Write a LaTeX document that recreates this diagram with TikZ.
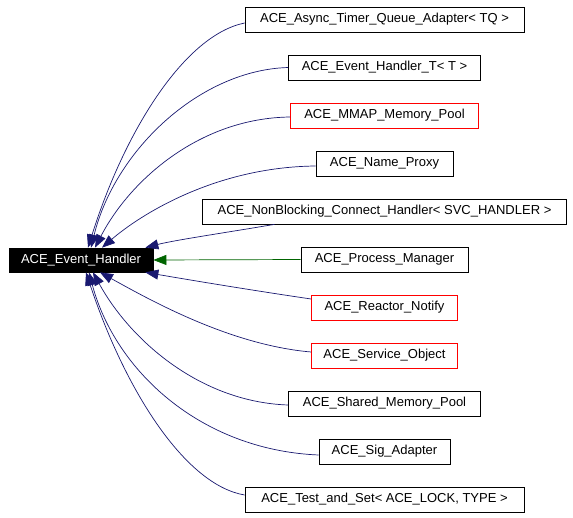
\documentclass[tikz,border=0pt]{standalone}
\usepackage{fontspec}
\setmainfont{Liberation Sans}
\usetikzlibrary{arrows.meta,positioning}
\definecolor{inhblue}{RGB}{25,25,112}
\definecolor{inhgreen}{RGB}{0,100,0}
\begin{document}
\begin{tikzpicture}[x=1pt,y=-1pt,node distance=48pt]

  % Definitions
  \tikzstyle{cls} = [rectangle, minimum height=25pt, inner sep=0pt, text centered, draw=black, line width=0.7pt, font=\fontsize{13}{15}\selectfont]
  \tikzstyle{cls_red} = [cls, draw=red]
  \tikzstyle{root_cls} = [cls, minimum height=24pt, fill=black, text=white]
  \tikzstyle{arrow} = [line width=0.7pt, draw=inhblue, -{Triangle[length=13pt,width=10pt]}]
  \tikzstyle{arrow_prot} = [arrow, draw=inhgreen]

  \useasboundingbox (0,0) rectangle (573,517);

  \node (eh) [root_cls, minimum width=144pt] at (81,260) {ACE\_Event\_Handler};

  \node (async) [cls, minimum width=279pt] at (384.5,19.5) {ACE\_Async\_Timer\_Queue\_Adapter< TQ >};
  \node (evt) [cls, minimum width=192pt, below of=async] {ACE\_Event\_Handler\_T< T >};
  \node (mmap) [cls_red, minimum width=188pt, below of=evt] {ACE\_MMAP\_Memory\_Pool};
  \node (proxy) [cls, minimum width=137pt, below of=mmap] {ACE\_Name\_Proxy};
  \node (nbch) [cls, minimum width=364pt, below of=proxy] {ACE\_NonBlocking\_Connect\_Handler< SVC\_HANDLER >};
  \node (proc) [cls, minimum width=167pt, below of=nbch] {ACE\_Process\_Manager};
  \node (notify) [cls_red, minimum width=146pt, below of=proc] {ACE\_Reactor\_Notify};
  \node (svc) [cls_red, minimum width=146pt, below of=notify] {ACE\_Service\_Object};
  \node (shmem) [cls, minimum width=192pt, below of=svc] {ACE\_Shared\_Memory\_Pool};
  \node (sig) [cls, minimum width=131pt, below of=shmem] {ACE\_Sig\_Adapter};
  \node (tas) [cls, minimum width=279pt, below of=sig] {ACE\_Test\_and\_Set< ACE\_LOCK, TYPE >};

  \draw [arrow] ([yshift=-3.5pt]async.west) .. controls (185,35) and (125,130) .. ([xshift=7pt]eh.north);
  \draw [arrow] (evt.west) .. controls (200,70) and (115,150) .. ([xshift=10pt]eh.north);
  \draw [arrow] ([yshift=-1.5pt]mmap.west) .. controls (200,118) and (130,180) .. ([xshift=14pt]eh.north);
  \draw [arrow] ([yshift=-2.5pt]proxy.west) .. controls (215,167) and (140,215) .. ([xshift=21pt]eh.north);
  \draw [arrow] ([xshift=-110pt]nbch.south) .. controls (230,232) and (175,240) .. ([xshift=-8pt]eh.north east);
  \draw [arrow_prot] (proc.west) -- (eh.east);
  \draw [arrow] ([yshift=8.5pt]notify.west) .. controls (250,290) and (190,280) .. ([xshift=-8pt]eh.south east);
  \draw [arrow] ([yshift=3.5pt]svc.west) .. controls (230,345) and (150,300) .. ([xshift=19pt]eh.south);
  \draw [arrow] ([yshift=-1.5pt]shmem.west) .. controls (200,402) and (130,340) .. ([xshift=12pt]eh.south);
  \draw [arrow] ([yshift=-3.5pt]sig.west) .. controls (200,450) and (115,370) .. ([xshift=8pt]eh.south);
  \draw [arrow] ([yshift=4.5pt]tas.west) .. controls (185,485) and (125,390) .. ([xshift=5pt]eh.south);

\end{tikzpicture}
\end{document}
